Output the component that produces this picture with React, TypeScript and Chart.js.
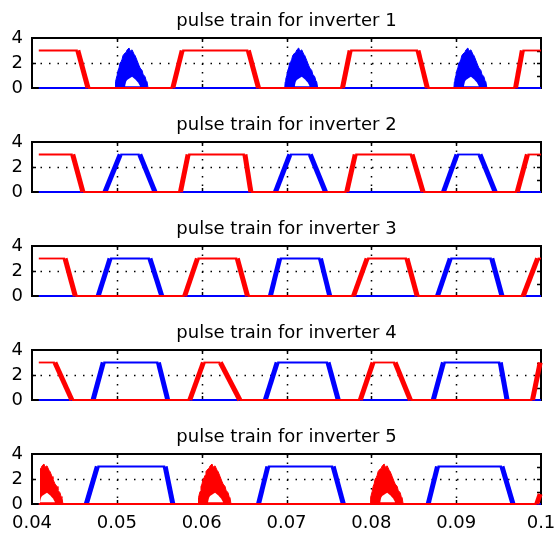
import React, { useEffect, useRef } from "react";
import { Chart, registerables } from "chart.js";
Chart.register(...registerables);

type P = [number, number];

const X_TICKS = [0.04, 0.05, 0.06, 0.07, 0.08, 0.09, 0.1];
const Y_TICKS = [0, 2, 4];
const X_START = 0.0408;

const TITLES = [
  "pulse train for inverter 1",
  "pulse train for inverter 2",
  "pulse train for inverter 3",
  "pulse train for inverter 4",
  "pulse train for inverter 5",
];

// inverter 1
const RED_1: P[] = [
  [0.0408, 3], [0.0454, 3], [0.0466, 0], [0.0566, 0], [0.0577, 3], [0.0655, 3], [0.0667, 0],
  [0.0766, 0], [0.0775, 3], [0.0855, 3], [0.0866, 0], [0.097, 0], [0.0978, 3], [0.1, 3],
];
const BLUE_1: P[] = [[0.0408, 0], [0.1, 0]];
const BLUE_1_MOUNDS = [0.05156, 0.07156, 0.0915];

// inverter 2
const RED_2: P[] = [
  [0.0408, 3], [0.0448, 3], [0.046, 0], [0.0575, 0], [0.0584, 3], [0.0651, 3], [0.0658, 0],
  [0.0771, 0], [0.0781, 3], [0.0848, 3], [0.0861, 0], [0.0972, 0], [0.0984, 3], [0.1, 3],
];
const BLUE_2: P[] = [
  [0.0408, 0], [0.0486, 0], [0.0504, 3], [0.0527, 3], [0.0545, 0], [0.0687, 0], [0.0704, 3],
  [0.0728, 3], [0.0746, 0], [0.0885, 0], [0.0901, 3], [0.0928, 3], [0.0946, 0], [0.1, 0],
];

// inverter 3
const RED_3: P[] = [
  [0.0408, 3], [0.0439, 3], [0.0451, 0], [0.058, 0], [0.0595, 3], [0.0642, 3], [0.0654, 0],
  [0.0779, 0], [0.0795, 3], [0.0842, 3], [0.0854, 0], [0.0979, 0], [0.0996, 3], [0.1, 3],
];
const BLUE_3: P[] = [
  [0.0408, 0], [0.0478, 0], [0.0492, 3], [0.0539, 3], [0.0553, 0], [0.0681, 0], [0.0692, 3],
  [0.074, 3], [0.0751, 0], [0.0878, 0], [0.0893, 3], [0.0942, 3], [0.0954, 0], [0.1, 0],
];

// inverter 4
const RED_4: P[] = [
  [0.0408, 3], [0.0427, 3], [0.0447, 0], [0.0586, 0], [0.0602, 3], [0.0622, 3], [0.0645, 0],
  [0.0787, 0], [0.0802, 3], [0.0828, 3], [0.0846, 0], [0.099, 0], [0.0999, 3],
];
const BLUE_4: P[] = [
  [0.0408, 0], [0.0472, 0], [0.0484, 3], [0.0549, 3], [0.056, 0], [0.0675, 0], [0.0689, 3],
  [0.0749, 3], [0.0761, 0], [0.0873, 0], [0.0885, 3], [0.0952, 3], [0.096, 0], [0.1, 0],
];

// inverter 5
const RED_5: P[] = [[0.0408, 0], [0.0995, 0], [0.0999, 0.8]];
const RED_5_MOUNDS = [0.04153, 0.06134, 0.08163];
const BLUE_5: P[] = [
  [0.0408, 0], [0.0464, 0], [0.0477, 3], [0.0557, 3], [0.0566, 0], [0.0667, 0], [0.0678, 3],
  [0.0755, 3], [0.0767, 0], [0.0867, 0], [0.0878, 3], [0.0954, 3], [0.0967, 0], [0.1, 0],
];

// switching envelope of a modulated burst (offset from burst centre, level)
const MOUND_TOP: P[] = [
  [-0.00177, 0], [-0.00171, 0.5], [-0.00165, 0.7], [-0.00153, 1.0], [-0.00142, 1.4],
  [-0.0013, 1.6], [-0.00118, 2.0], [-0.00106, 2.1], [-0.00094, 2.3], [-0.00083, 2.6],
  [-0.00059, 2.8], [-0.00047, 2.85], [-0.00035, 3.05], [-0.00012, 3.2], [0, 2.95],
  [0.00012, 3.0], [0.00024, 3.05], [0.00047, 2.7], [0.00059, 2.6], [0.00083, 2.2],
  [0.00094, 2.0], [0.00106, 1.8], [0.00118, 1.6], [0.00142, 1.4], [0.00153, 1.1],
  [0.00177, 0.9], [0.00189, 0.6], [0.002, 0.5], [0.00212, 0],
];
const MOUND_NOTCH: P[] = [
  [-0.00059, 0.15], [-0.00047, 0.5], [-0.00035, 0.65], [0, 0.8], [0.00024, 0.9],
  [0.00059, 0.7], [0.00094, 0.45], [0.00118, 0.15],
];

const PANELS = [
  { red: RED_1, blue: BLUE_1, redMounds: [] as number[], blueMounds: BLUE_1_MOUNDS },
  { red: RED_2, blue: BLUE_2, redMounds: [] as number[], blueMounds: [] as number[] },
  { red: RED_3, blue: BLUE_3, redMounds: [] as number[], blueMounds: [] as number[] },
  { red: RED_4, blue: BLUE_4, redMounds: [] as number[], blueMounds: [] as number[] },
  { red: RED_5, blue: BLUE_5, redMounds: RED_5_MOUNDS, blueMounds: [] as number[] },
];

const RED = "#ff0000";
const BLUE = "#0000ff";
const FONT = "DejaVu Sans";

function fmt(v: number) {
  return String(Number(v.toFixed(2)));
}

function traceDs(pts: P[], color: string, order: number) {
  return {
    data: pts.map(([x, y]) => ({ x, y })),
    borderColor: color,
    backgroundColor: color,
    borderWidth: 1.8,
    pointRadius: 0,
    fill: false,
    tension: 0,
    order,
    clip: false as any,
    segment: {
      borderWidth: (c: any) => (c.p0.parsed.y !== c.p1.parsed.y ? 5 : 1.8),
    },
  };
}

function moundDs(center: number, shape: P[], color: string, order: number, fill: any) {
  return {
    data: shape.map(([dx, y]) => ({ x: center + dx, y })).filter((p) => p.x >= X_START),
    borderColor: color,
    backgroundColor: color,
    borderWidth: color === "#ffffff" ? 0 : 1,
    pointRadius: 0,
    fill,
    tension: 0,
    order,
    clip: false as any,
  };
}

function framePlugin(title: string) {
  return {
    id: "frame",
    beforeDatasetsDraw(chart: any) {
      const { ctx, chartArea } = chart;
      const { left, right, top, bottom } = chartArea;
      const xs = chart.scales.x;
      const ys = chart.scales.y;
      const ln = (a: number, b: number, c: number, d: number) => {
        ctx.beginPath();
        ctx.moveTo(a, b);
        ctx.lineTo(c, d);
        ctx.stroke();
      };
      ctx.save();
      ctx.strokeStyle = "#000";
      ctx.lineWidth = 1.5;
      ctx.setLineDash([1.5, 7]);
      X_TICKS.slice(1, -1).forEach((v) => {
        const px = Math.round(xs.getPixelForValue(v)) + 0.5;
        ln(px, top, px, bottom);
      });
      Y_TICKS.slice(1, -1).forEach((v) => {
        const py = Math.round(ys.getPixelForValue(v)) + 0.5;
        ln(left, py, right, py);
      });
      ctx.setLineDash([]);
      X_TICKS.slice(1, -1).forEach((v) => {
        const px = Math.round(xs.getPixelForValue(v)) + 0.5;
        ln(px, top, px, top + 4);
        ln(px, bottom, px, bottom - 4);
      });
      [1, 2, 3].forEach((v) => {
        const py = Math.round(ys.getPixelForValue(v)) + 0.5;
        if (v === 2) ln(left, py, left + 4, py);
        ln(right, py, right - 4, py);
      });
      ctx.lineWidth = 2;
      ctx.strokeRect(left, top, right - left, bottom - top);
      ctx.restore();
    },
    afterDraw(chart: any) {
      const { ctx, chartArea } = chart;
      ctx.save();
      ctx.fillStyle = "#000";
      ctx.font = `18px "${FONT}"`;
      ctx.textAlign = "center";
      ctx.textBaseline = "alphabetic";
      ctx.fillText(title, (chartArea.left + chartArea.right) / 2, chartArea.top - 12);
      ctx.restore();
    },
  };
}

function Panel({ index }: { index: number }) {
  const ref = useRef<HTMLCanvasElement>(null);
  const isLast = index === PANELS.length - 1;
  const height = isLast ? 121 : 104;
  useEffect(() => {
    const p = PANELS[index];
    const datasets: any[] = [];
    p.redMounds.forEach((c) => {
      datasets.push(moundDs(c, MOUND_NOTCH, "#ffffff", 0, { value: 0.15 }));
      datasets.push(moundDs(c, MOUND_TOP, RED, 1, "origin"));
    });
    datasets.push(traceDs(p.red, RED, 2));
    p.blueMounds.forEach((c) => {
      datasets.push(moundDs(c, MOUND_NOTCH, "#ffffff", 3, { value: 0.15 }));
      datasets.push(moundDs(c, MOUND_TOP, BLUE, 4, "origin"));
    });
    datasets.push(traceDs(p.blue, BLUE, 5));

    const tickFont = { family: FONT, size: 18 };
    const chart = new Chart(ref.current as HTMLCanvasElement, {
      type: "line",
      data: { datasets },
      options: {
        animation: false,
        responsive: false,
        devicePixelRatio: 1,
        events: [],
        layout: { padding: { left: 0, right: 14, top: 38, bottom: isLast ? 3 : 16 } },
        plugins: { legend: { display: false }, tooltip: { enabled: false }, title: { display: false } },
        scales: {
          x: {
            type: "linear",
            min: 0.04,
            max: 0.1,
            display: isLast,
            grid: { display: false, drawTicks: false },
            border: { display: false },
            afterBuildTicks: (s: any) => {
              s.ticks = X_TICKS.map((v) => ({ value: v }));
            },
            afterFit: (s: any) => {
              s.height = isLast ? 30 : 0;
              s.paddingLeft = 0;
              s.paddingRight = 0;
              s.paddingTop = 0;
              s.paddingBottom = 0;
            },
            ticks: {
              autoSkip: false,
              maxRotation: 0,
              minRotation: 0,
              padding: 9,
              color: "#000",
              font: tickFont,
              callback: (v: any) => fmt(Number(v)),
            },
          },
          y: {
            type: "linear",
            min: 0,
            max: 4,
            grid: { display: false, drawTicks: false },
            border: { display: false },
            afterBuildTicks: (s: any) => {
              s.ticks = Y_TICKS.map((v) => ({ value: v }));
            },
            afterFit: (s: any) => {
              s.width = 32;
              s.paddingTop = 0;
              s.paddingBottom = 0;
              s.paddingLeft = 0;
              s.paddingRight = 0;
            },
            ticks: {
              padding: 9,
              autoSkip: false,
              color: "#000",
              font: tickFont,
              callback: (v: any) => String(v),
            },
          },
        },
      } as any,
      plugins: [framePlugin(TITLES[index])],
    });
    return () => chart.destroy();
  }, [index]);
  return (
    <canvas
      ref={ref}
      width={555}
      height={height}
      style={{ position: "absolute", left: 0, top: index * 104, width: 555, height }}
    />
  );
}

export default function App() {
  return (
    <div style={{ position: "relative", width: 555, height: 537, background: "#fff", overflow: "hidden" }}>
      <style>{`body{margin:0;background:#fff}`}</style>
      {PANELS.map((_, i) => (
        <Panel key={i} index={i} />
      ))}
    </div>
  );
}
